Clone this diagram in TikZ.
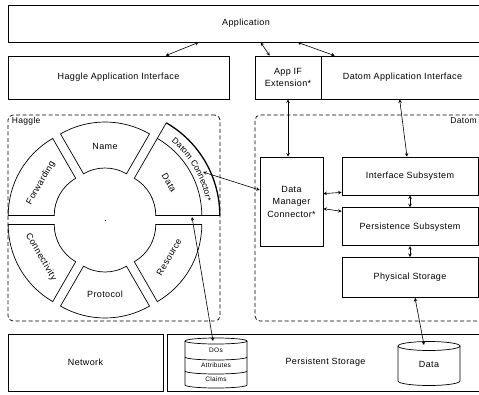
\documentclass[tikz,border=0pt]{standalone}
\usepackage{fontspec}
\setmainfont[LetterSpace=4]{Liberation Sans}
\usetikzlibrary{positioning, arrows, decorations.text}

\tikzstyle{block} = [rectangle, draw=black, line width=0.7pt, inner sep=1pt, text centered, align=center, font=\fontsize{9}{12.5}\selectfont]
\tikzstyle{group} = [rectangle, draw=black, line width=0.7pt, dash pattern=on 4pt off 2.5pt, rounded corners=5pt]
\tikzstyle{lbl} = [inner sep=0pt, font=\fontsize{8.5}{10}\selectfont]
\tikzstyle{ringtext} = [inner sep=0pt, font=\fontsize{9}{10}\selectfont]
\tikzstyle{small} = [inner sep=0pt, font=\fontsize{6.5}{7}\selectfont]
\tikzstyle{seg} = [draw=black, line width=0.7pt]
\tikzstyle{arrow} = [line width=0.6pt, <->, >=stealth]

\begin{document}
\begin{tikzpicture}[x=1pt, y=-1pt]

\useasboundingbox (0,0) rectangle (479,394);
\clip (0,0) rectangle (479,394);

\node (app) [block, minimum width=476pt, minimum height=37pt] at (246,23.5) {Application};

\node (hapi) [block, minimum width=221pt, minimum height=43pt] at (118.5,77.5) {Haggle Application Interface};
\node (appif) [block, minimum width=66pt, minimum height=43pt] at (288,77.5) {App IF\\Extension*};
\node (dapi) [block, minimum width=163pt, minimum height=43pt] at (402.5,77.5) {Datom Application Interface};

\node (haggle) [group, minimum width=212pt, minimum height=206pt] at (114,218) {};
\node (hagglelbl) [lbl, anchor=north west] at ([xshift=4pt, yshift=-2pt]haggle.north west) {Haggle};

\node (datom) [group, minimum width=229pt, minimum height=206pt] at (369.5,218) {};
\node (datomlbl) [lbl, anchor=north east] at (477,117) {Datom};

\node (dmc) [block, minimum width=63pt, minimum height=89pt] at (291.5,201.5) {Data\\Manager\\Connector*};
\node (ifs) [block, minimum width=136pt, minimum height=38pt] at (410,176) {Interface Subsystem};
\node (pss) [block, minimum width=136pt, minimum height=38pt, below=12pt of ifs] {Persistence Subsystem};
\node (phys) [block, minimum width=136pt, minimum height=40pt, below=11pt of pss] {Physical Storage};

\node (net) [block, minimum width=155pt, minimum height=57pt] at (85.5,362.5) {Network};
\node (pst) [block, minimum width=317pt, minimum height=57pt] at (325.5,362.5) {Persistent Storage};

\begin{scope}[shift={(105,220)}, yscale=-1]
\foreach \b/\txt/\rot in {150/Forwarding/60, 90/Name/0, 30/Data/-60, -30/Resource/60, -90/Protocol/0, -150/Connectivity/-60} {
  \begin{scope}[shift={(\b:9)}]
  \draw [seg] (\b-30:43) -- (\b-30:89) arc[start angle=\b-30, end angle=\b+30, radius=89] -- (\b+30:43) arc[start angle=\b+30, end angle=\b-30, radius=43] -- cycle;
  \node (seg\txt) [ringtext, rotate=\rot] at (\b:65) {\txt};
  \end{scope}
}
\begin{scope}[shift={(30:9)}]
\draw [seg] (60:89) -- (60:107);
\draw [seg] (0:89) -- (0:107);
\draw [line width=1.3pt] (60:107) arc[start angle=60, end angle=0, radius=107];
\path [decorate, decoration={text along path, text align=center, text={|\fontsize{8.5}{10}\selectfont|Datom Connector*}}] (60:94) arc[start angle=60, end angle=0, radius=94];
\end{scope}
\end{scope}
\node (center) [inner sep=0.4pt, fill=black] at (105,220) {};

\draw [seg] (185,341) -- (185,385) arc[start angle=180, end angle=0, x radius=31, y radius=3] -- (247,341);
\draw [seg] (216,341) ellipse [x radius=31, y radius=3];
\draw [seg] (185,357) arc[start angle=180, end angle=0, x radius=31, y radius=3];
\draw [seg] (185,371) arc[start angle=180, end angle=0, x radius=31, y radius=3];
\node (dos) [small] at (216,350) {DOs};
\node (attr) [small] at (216,365) {Attributes};
\node (claims) [small] at (216,379) {Claims};

\draw [seg] (398,346) -- (398,381) arc[start angle=180, end angle=0, x radius=31, y radius=4.5] -- (460,346);
\draw [seg] (429,346) ellipse [x radius=31, y radius=4.5];
\node (datalbl) [ringtext] at (429,364) {Data};

\coordinate (dcport) at (203,172);
\coordinate (dataport) at (192,217);
\coordinate (dostop) at (213,341);
\coordinate (datatop) at (424,345);

\draw [arrow] ([xshift=191pt]app.south west) -- ([xshift=158pt]hapi.north west);
\draw [arrow] ([xshift=253pt]app.south west) -- ([xshift=15pt]appif.north west);
\draw [arrow] ([xshift=290pt]app.south west) -- ([xshift=14pt]dapi.north west);
\draw [arrow] (appif.south) -- (appif.south |- dmc.north);
\draw [arrow] ([xshift=79pt]dapi.south west) -- ([xshift=-3pt]ifs.north);

\draw [arrow] ([yshift=-37pt]dmc.north east) -- ([yshift=3pt]ifs.south west);
\draw [arrow] ([yshift=-52pt]dmc.north east) -- ([yshift=-4pt]pss.north west);
\draw [arrow] (ifs) -- (pss);
\draw [arrow] (pss) -- (phys);
\draw [arrow] ([xshift=5pt]phys.south) -- (datatop);

\draw [arrow] (dcport) -- ([yshift=11.5pt]dmc.west);
\draw [arrow] (dataport) -- (dostop);

\end{tikzpicture}
\end{document}
